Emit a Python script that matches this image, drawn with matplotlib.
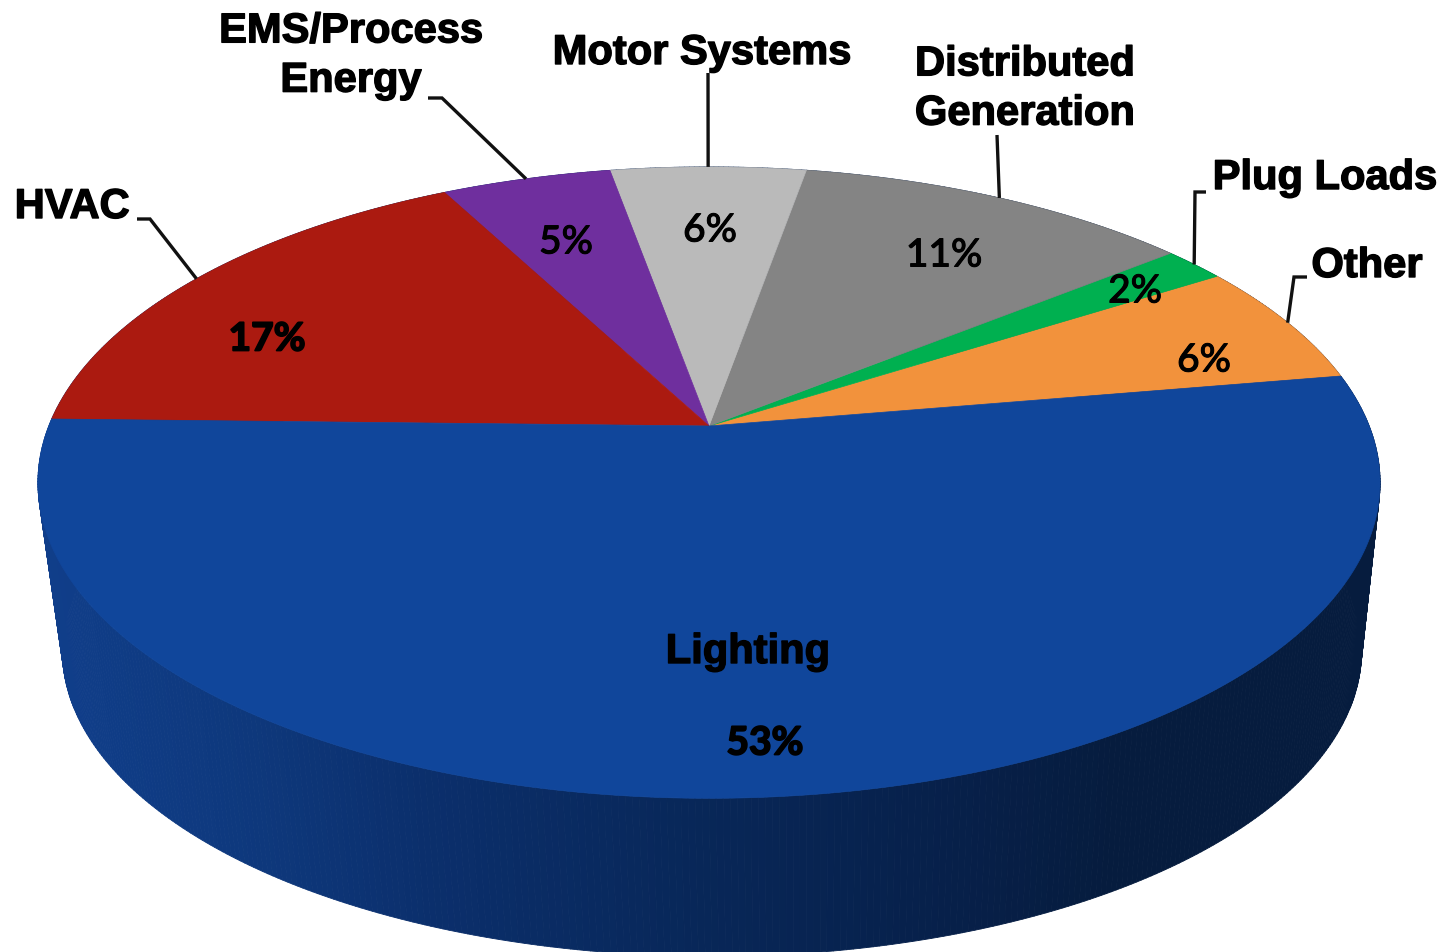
import numpy as np
import matplotlib
matplotlib.use("Agg")
import matplotlib.pyplot as plt
from matplotlib.collections import PolyCollection
import matplotlib.patheffects as pe

# Share of savings by end use, listed counter-clockwise from the right-hand side
categories = ["Other", "Plug Loads", "Distributed\nGeneration", "Motor Systems",
              "EMS/Process\nEnergy", "HVAC", "Lighting"]
shares = [6.33, 1.8, 11.4, 5.6, 4.86, 16.95, 53.06]
colors = ["#f2923c", "#00b050", "#848484", "#bababa", "#6f2f9e", "#ab1a10", "#10469b"]

START_DEG = 9.7
CX, CY = 709.0, 426.0
DEPTH, SCALE_X, SCALE_Y = 5.58, 3684.0, 1705.0
LOWER_SCALE, LOWER_CX, LOWER_CY = 0.968, 712.0, 596.0


def rim(theta_deg, radius=1.0):
    """Perspective projection of a disc point onto canvas offsets from the apex."""
    t = np.radians(theta_deg)
    x, y = radius * np.cos(t), radius * np.sin(t)
    den = DEPTH + y
    return SCALE_X * x / den, -SCALE_Y * y / den


fig = plt.figure(figsize=(14.45, 9.52), dpi=100)
ax = fig.add_axes([0, 0, 1, 1])
ax.set_xlim(0, 1445)
ax.set_ylim(952, 0)
ax.axis("off")

# Side wall: thin strips between top and bottom rims, shaded left to right
angles = np.linspace(0, 360, 721)
dx, dy = rim(angles)
top_x, top_y = CX + dx, CY + dy
low_x, low_y = LOWER_CX + LOWER_SCALE * dx, LOWER_CY + LOWER_SCALE * dy
shade_x = [40, 250, 420, 700, 950, 1120, 1400]
shade_rgb = np.array([[0x10, 0x3e, 0x8a], [0x0e, 0x38, 0x7c], [0x0b, 0x2f, 0x6c],
                      [0x08, 0x27, 0x58], [0x07, 0x20, 0x4a], [0x06, 0x1c, 0x3e],
                      [0x06, 0x1c, 0x3e]]) / 255.0
strips, strip_colors = [], []
for i in range(len(angles) - 1):
    strips.append([(top_x[i], top_y[i]), (top_x[i + 1], top_y[i + 1]),
                   (low_x[i + 1], low_y[i + 1]), (low_x[i], low_y[i])])
    mid = (top_x[i] + top_x[i + 1]) / 2
    strip_colors.append([np.interp(mid, shade_x, shade_rgb[:, c]) for c in range(3)])
ax.add_collection(PolyCollection(strips, facecolors=strip_colors, edgecolors=strip_colors,
                                 linewidths=0.6, zorder=1))

# Top face wedges, with leader lines ending on the rim at each wedge's mid-angle
elbows = {
    "HVAC": [(137, 219), (150, 219)],
    "EMS/Process\nEnergy": [(428, 98), (442, 98)],
    "Motor Systems": [(708, 73)],
    "Distributed\nGeneration": [(997, 135)],
    "Plug Loads": [(1206, 192), (1195, 192)],
    "Other": [(1307, 277), (1294, 277)],
}
start = START_DEG
for name, share, color in zip(categories, shares, colors):
    sweep = share * 3.6
    th = np.linspace(start, start + sweep, max(int(sweep * 3), 8))
    wx, wy = rim(th)
    ax.fill(np.r_[CX, CX + wx], np.r_[CY, CY + wy], color=color, lw=0.5, zorder=2)
    if name in elbows:
        ex, ey = rim(start + sweep / 2)
        pts = elbows[name] + [(CX + ex, CY + ey)]
        ax.plot(*zip(*pts), color="#111111", lw=2.4, solid_joinstyle="miter",
                solid_capstyle="butt", zorder=3)
    start += sweep

# Category names
heavy = [pe.withStroke(linewidth=1.0, foreground="black")]
name_pos = {
    "HVAC": (72, 207),
    "EMS/Process\nEnergy": (351, 56),
    "Motor Systems": (702, 53),
    "Distributed\nGeneration": (1025, 89),
    "Plug Loads": (1325, 178),
    "Other": (1367, 266),
    "Lighting": (748, 652),
}
for name, (x, y) in name_pos.items():
    ax.text(x, y, name, ha="center", va="center", family="Liberation Sans", weight="bold",
            fontsize=30, color="black", linespacing=1.3, path_effects=heavy, zorder=4)

# Percentage labels
pct_pos = [(1204, 361), (1135, 292), (944, 256), (710, 231), (566, 243), (267, 339), (765, 743)]
for share, (x, y) in zip(shares, pct_pos):
    stroke = 1.3 if share > 15 else 0.7
    ax.text(x, y, f"{share:.0f}%", ha="center", va="center", family="Lato",
            weight="bold" if share > 15 else "medium", fontsize=28, color="black",
            path_effects=[pe.withStroke(linewidth=stroke, foreground="black")], zorder=4)

fig.savefig("out.png", dpi=100, facecolor="white")
